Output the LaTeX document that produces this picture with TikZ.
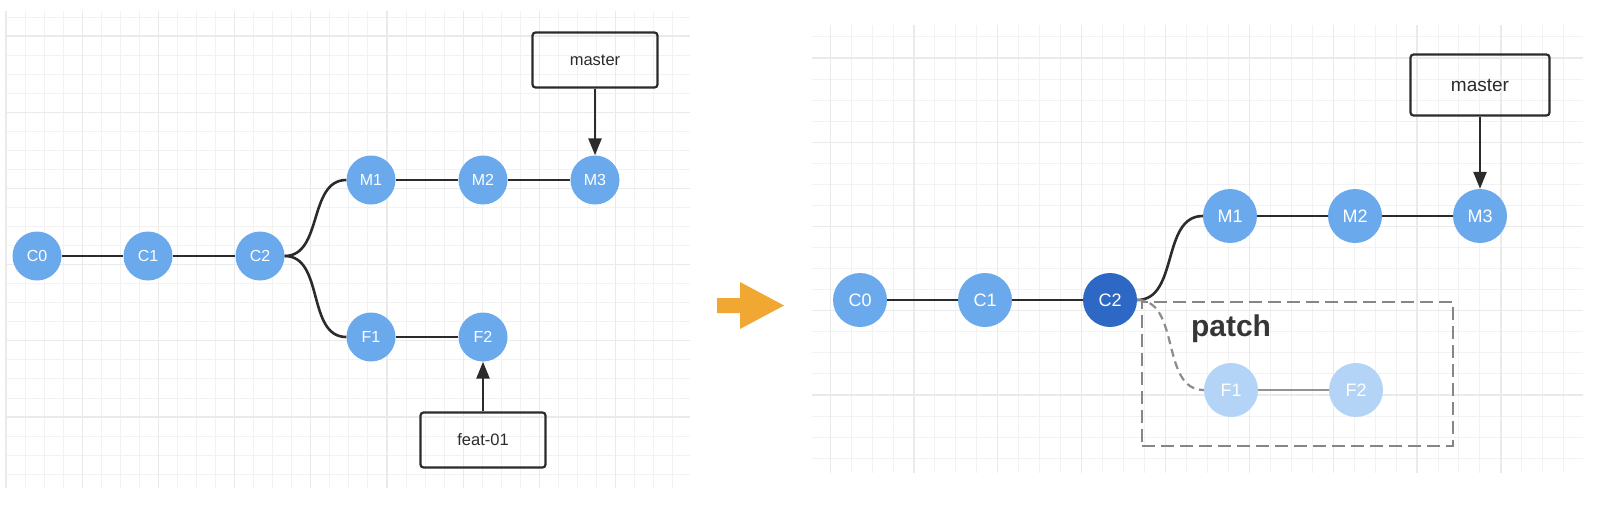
\documentclass[tikz,border=0pt]{standalone}
\usepackage{fontspec}
\setmainfont{Liberation Sans}
\usetikzlibrary{arrows.meta}
\definecolor{nodeblue}{HTML}{6AA9EC}
\definecolor{darkblue}{HTML}{2D68C4}
\definecolor{paleblue}{HTML}{B3D3F7}
\definecolor{arrorange}{HTML}{F0A833}
\definecolor{gridminor}{HTML}{F2F2F2}
\definecolor{gridmajor}{HTML}{EAEAEA}
\definecolor{inkgray}{HTML}{2B2B2B}
\begin{document}
\begin{tikzpicture}
  [x=1pt,y=-1pt,every node/.style={inner sep=0pt,text=inkgray}]
  \tikzstyle{commit} = [circle,fill=nodeblue,text=white,minimum size=49pt,font=\fontsize{16}{18}\selectfont]
  \tikzstyle{rcommit} = [commit,minimum size=54pt,font=\fontsize{18}{20}\selectfont]
  \tikzstyle{branch} = [draw=inkgray,line width=2.2pt,rounded corners=3pt,minimum width=125pt,minimum height=55pt,font=\fontsize{16.5}{19}\selectfont]
  \tikzstyle{edge} = [draw=inkgray,line width=2.6pt]
  \tikzstyle{pointer} = [edge,-{Triangle[length=17pt,width=13pt]}]
  \tikzstyle{minor} = [gridminor,line width=1pt]
  \tikzstyle{major} = [gridmajor,line width=1.2pt]
  \useasboundingbox[fill=white] (0,0) rectangle (1603,515);

  \foreach \k in {0,...,35} \draw[minor] ({6+19.05*\k},11) -- ({6+19.05*\k},488);
  \foreach \m in {0,...,24} \draw[minor] (6,{17+19.05*\m}) -- (690,{17+19.05*\m});
  \foreach \k in {0,4,...,32} \draw[major] ({6+19.05*\k},11) -- ({6+19.05*\k},488);
  \foreach \m in {1,5,...,21} \draw[major] (6,{17+19.05*\m}) -- (690,{17+19.05*\m});

  \foreach \k in {-4,...,31} \draw[minor] ({914+20.96*\k},25) -- ({914+20.96*\k},473);
  \foreach \m in {-1,...,19} \draw[minor] (812,{58+21.06*\m}) -- (1583,{58+21.06*\m});
  \foreach \k in {-4,0,...,28} \draw[major] ({914+20.96*\k},25) -- ({914+20.96*\k},473);
  \foreach \m in {0,4,...,16} \draw[major] (812,{58+21.06*\m}) -- (1583,{58+21.06*\m});

  \node[commit] (lc0) at (37,256)  {C0};
  \node[commit] (lc1) at (148,256) {C1};
  \node[commit] (lc2) at (260,256) {C2};
  \node[commit] (lm1) at (371,180) {M1};
  \node[commit] (lm2) at (483,180) {M2};
  \node[commit] (lm3) at (595,180) {M3};
  \node[commit] (lf1) at (371,337) {F1};
  \node[commit] (lf2) at (483,337) {F2};
  \node[branch] (lmaster) at (595,60) {master};
  \node[branch] (lfeat) at (483,440) {feat-01};
  \foreach \source/\dest in {lc0/lc1,lc1/lc2,lm1/lm2,lm2/lm3,lf1/lf2}
    \draw[edge] (\source) -- (\dest);
  \draw[edge] (lc2) to[out=0,in=180] (lm1);
  \draw[edge] (lc2) to[out=0,in=180] (lf1);
  \draw[pointer] (lmaster) -- (lm3);
  \draw[pointer] (lfeat) -- (lf2);

  \fill[arrorange] (717,298) -- (740,298) -- (740,282) -- (784,305.5) -- (740,329) -- (740,313) -- (717,313) -- cycle;

  \node[draw=gray!95,line width=2.4pt,dash pattern=on 13pt off 6pt,minimum width=311pt,minimum height=144pt] (patchbox) at (1297.5,374) {};
  \node[font=\fontsize{30}{32}\selectfont\bfseries,text=inkgray!95] (patch) at (1231,329) {patch};
  \node[rcommit] (rc0) at (860,300)  {C0};
  \node[rcommit] (rc1) at (985,300)  {C1};
  \node[rcommit,fill=darkblue] (rc2) at (1110,300) {C2};
  \node[rcommit] (rm1) at (1230,216) {M1};
  \node[rcommit] (rm2) at (1355,216) {M2};
  \node[rcommit] (rm3) at (1480,216) {M3};
  \node[rcommit,fill=paleblue] (rf1) at (1231,390) {F1};
  \node[rcommit,fill=paleblue] (rf2) at (1356,390) {F2};
  \node[branch,minimum width=139pt,minimum height=61pt,font=\fontsize{19}{21}\selectfont] (rmaster) at (1480,85) {master};
  \foreach \source/\dest in {rc0/rc1,rc1/rc2,rm1/rm2,rm2/rm3}
    \draw[edge] (\source) -- (\dest);
  \draw[edge] (rc2) to[out=0,in=180] (rm1);
  \draw[draw=gray!90,line width=2.2pt,dash pattern=on 8pt off 5pt] (rc2) to[out=0,in=180] (rf1);
  \draw[draw=gray!85,line width=2.6pt] (rf1) -- (rf2);
  \draw[pointer] (rmaster) -- (rm3);
\end{tikzpicture}
\end{document}
